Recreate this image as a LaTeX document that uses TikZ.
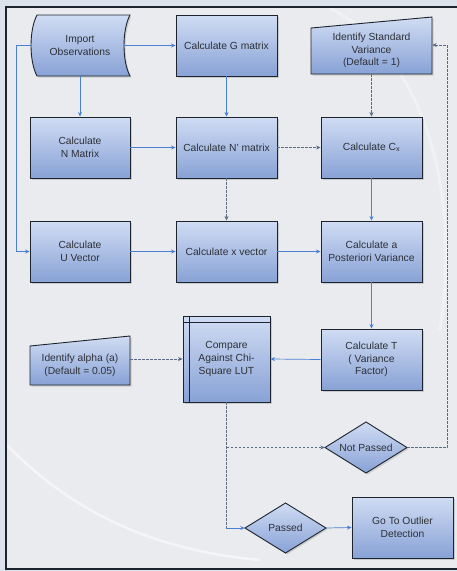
\documentclass[tikz,border=0pt]{standalone}
\usepackage{fontspec}
\setmainfont{Liberation Sans}
\usetikzlibrary{arrows.meta,shadows,calc}
\definecolor{boxtop}{RGB}{208,220,243}
\definecolor{boxbot}{RGB}{136,162,214}
\definecolor{boxline}{RGB}{30,36,46}
\definecolor{flowc}{RGB}{74,128,212}
\definecolor{dashc}{RGB}{92,106,132}
\definecolor{outerbg}{RGB}{219,226,236}
\definecolor{innerbg}{RGB}{233,235,238}
\definecolor{txt}{RGB}{45,48,55}
\tikzset{
  lbl/.style={font=\fontsize{10.3}{12.8}\selectfont, text=txt, align=center, inner sep=0pt},
  procbox/.style={lbl, rectangle, draw=boxline, line width=0.9pt, top color=boxtop, bottom color=boxbot,
    drop shadow={shadow xshift=1.5pt, shadow yshift=-1.5pt, opacity=0.3},
    minimum width=101pt, minimum height=61pt},
  shapefill/.style={draw=boxline, line width=0.9pt, top color=boxtop, bottom color=boxbot,
    drop shadow={shadow xshift=1.5pt, shadow yshift=-1.5pt, opacity=0.3}},
  flow/.style={draw=flowc, line width=0.7pt, -{Stealth[length=4.5pt,width=4pt]}},
  dflow/.style={draw=dashc, line width=0.6pt, dash pattern=on 2.5pt off 1.5pt, -{Stealth[length=4.5pt,width=4pt,fill=flowc]}},
  dline/.style={draw=dashc, line width=0.6pt, dash pattern=on 2.5pt off 1.5pt},
}
\begin{document}
\begin{tikzpicture}[x=1pt,y=-1pt]
\useasboundingbox (0,0) rectangle (457,571);
% background
\fill[outerbg] (0,0) rectangle (457,571);
\fill[innerbg] (6,7) rectangle (457,569);
\draw[white, opacity=0.55, line width=2.5pt] (7,445) .. controls (70,510) and (150,550) .. (260,560);
\draw[white, opacity=0.35, line width=3pt] (330,8) .. controls (430,60) and (460,200) .. (440,330);
\draw[boxline, line width=1.5pt] (457,7) -- (6,7) -- (6,569) -- (457,569);

% custom shapes
\path[shapefill] (37,15) -- (130,15) .. controls (122,30) and (122,61) .. (130,76) -- (37,76) .. controls (29,61) and (29,30) .. cycle;
\path[shapefill] (311,28) -- (432,17) -- (432,74) -- (311,74) -- cycle;
\path[shapefill] (30,346) -- (130,336) -- (130,385) -- (30,385) -- cycle;
\path[shapefill] (325,447.5) -- (366,422) -- (407,447.5) -- (366,473) -- cycle;
\path[shapefill] (245,528) -- (285.5,503) -- (326,528) -- (285.5,553) -- cycle;

% nodes
\node[lbl, minimum width=100pt, minimum height=61pt] (imp) at (80,45.5) {Import\\Observations};
\node[procbox] (gm) at (226.5,45.5) {Calculate G matrix};
\node[lbl, minimum width=121pt, minimum height=47pt] (stdv) at (371.5,50.5) {Identify Standard\\Variance\\(Default = 1)};
\node[procbox, minimum width=100pt] (nm) at (80,147.5) {Calculate\\N Matrix};
\node[procbox] (npm) at (226.5,147.5) {Calculate N' matrix};
\node[procbox] (cx) at (371.5,147.5) {Calculate C\textsubscript{x}};
\node[procbox, minimum width=100pt] (uv) at (80,251.5) {Calculate\\U Vector};
\node[procbox] (xv) at (226.5,251.5) {Calculate x vector};
\node[procbox] (apv) at (371.5,251.5) {Calculate a\\Posteriori Variance};
\node[lbl, minimum width=100pt, minimum height=39pt] (al) at (80,365.5) {Identify alpha (a)\\(Default = 0.05)};
\node[procbox, minimum width=87pt, minimum height=86pt] (cmp) at (226.5,359) {Compare\\Against Chi-\\Square LUT};
\draw[boxline, line width=0.9pt] (189,316) -- (189,402) (183,322) -- (270,322);
\node[procbox] (tf) at (371.5,359.5) {Calculate T\\( Variance\\Factor)};
\node[lbl, minimum width=82pt, minimum height=51pt] (npass) at (366,447.5) {Not Passed};
\node[lbl, minimum width=81pt, minimum height=50pt] (pass) at (285.5,528) {Passed};
\node[procbox] (go) at (402.5,527.5) {Go To Outlier\\Detection};

% connectors
\draw[flow] ([xshift=-6pt]imp.east) -- (gm.west);
\draw[flow] (imp.south) -- (nm.north);
\draw[flow] ([xshift=1pt]imp.west) -- ++(-14,0) |- (uv.west);
\draw[flow] (gm.south) -- (npm.north);
\draw[flow] (nm.east) -- (npm.west);
\draw[dflow] (npm.east) -- (cx.west);
\draw[dflow] (stdv.south) -- (cx.north);
\draw[dflow] (npm.south) -- (xv.north);
\draw[flow] (cx.south) -- (apv.north);
\draw[flow] (uv.east) -- (xv.west);
\draw[flow] (xv.east) -- (apv.west);
\draw[flow] (apv.south) -- (tf.north);
\draw[flow] (tf.west) -- (cmp.east);
\draw[dflow] (al.east |- cmp.west) -- (cmp.west);
\draw[dline] (cmp.south) -- (cmp.south |- pass.west);
\draw[flow] ([xshift=-0.3pt]cmp.south |- pass.west) -- (pass.west);
\draw[dflow] (cmp.south |- npass.west) -- (npass.west);
\draw[dflow] (npass.east) -- ++(40,0) |- ([yshift=5.5pt]stdv.east);
\draw[flow] (pass.east) -- (go.west);
\end{tikzpicture}
\end{document}
